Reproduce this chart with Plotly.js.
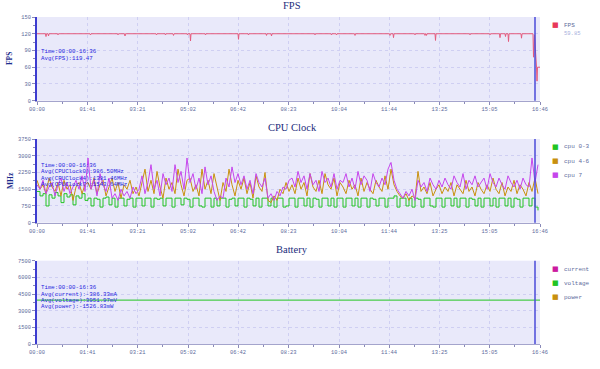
<!DOCTYPE html>
<html><head><meta charset="utf-8">
<script src="https://cdn.plot.ly/plotly-3.0.1.min.js"></script>
<style>html,body{margin:0;padding:0;background:#fff}#chart{width:600px;height:369px}</style>
</head><body><div id="chart"></div>
<script>
// ---------- DATA ----------
const timeTickLabels = ["00:00","01:41","03:21","05:02","06:42","08:23","10:04","11:44","13:25","15:05","16:46"];
const timeRangeText = "00:00-16:36";
const cursorTime = 996; // seconds (16:36)

const fpsYTicks = [0,30,60,90,120,150];
const cpuYTicks = [0,750,1500,2250,3000,3750];
const batYTicks = [0,1500,3000,4500,6000,7500];

const fpsTime = [0, 17,18,19, 22,23,24, 41,42,43, 106,107,108, 161,162,163, 175,176,177,
  238,239,240, 256,257,258, 272,273,274, 300,301,302, 306,307,308, 336,337,338, 402,403,404,
  422,423,424, 458,459,460, 468,469,470, 555,556,557, 588,589,590, 598,599,600, 635,636,637,
  705,706,707, 712,713,714, 755,756,757, 775,776,777, 778,779,780, 796,797,798, 865,866,867,
  905,906,907, 925,926,927, 936,937,938, 942,943,944, 968,969,970, 992,993,995, 999,1000,1001,1006];
const fpsValue = [120, 120,115,120, 120,116,120, 120,118,120, 120,118,120, 120,118,120, 120,116,120,
  120,118,120, 120,118,120, 120,117,120, 120,118,120, 120,107,120, 120,118,120, 120,110,120,
  120,118,120, 120,117,120, 120,116,120, 120,118,120, 120,118,120, 120,118,120, 120,117,120,
  120,117,120, 120,113,120, 120,118,120, 120,117,120, 120,117,120, 120,108,120, 120,118,120,
  120,118,120, 120,113,120, 120,115,120, 120,106,120, 120,112,120, 120,78,118, 60,35,60,60];
const fpsLatest = "59.85";
const fpsAvg = "119.47";

const cpuStartSec = 0, cpuStepSec = 6;
const cpu03 = [1400,1200,1300,750,1250,1100,1350,1200,900,1300,1150,1250,800,1200,1100,1300,1000,
  1100,750,1100,1050,700,1100,1150,800,1100,700,1100,1100,750,1050,1100,700,1100,
  1100,750,1100,1100,700,1100,1050,1100,750,1100,1100,700,1100,1100,800,1100,1050,
  700,1100,1100,750,700,1100,1100,700,1100,750,1100,1100,700,1050,1100,750,1100,
  1100,700,1100,1050,750,1100,700,1100,1100,750,1100,700,1100,1100,700,750,1100,
  1100,700,1100,1100,750,1100,700,1100,1050,700,1100,1100,750,1100,700,1100,1100,
  700,1100,1100,750,1100,700,1100,1100,700,1100,1050,750,1100,1100,700,1100,1100,
  1200,700,1100,1100,750,1100,700,1100,1050,700,1100,1100,750,700,1100,1100,700,
  1100,1100,750,1100,700,1100,1100,700,1100,1050,750,1100,700,1100,1100,750,1100,
  700,1100,1100,750,1100,700,1100,1050,700,1100,1100,750,1100,700,550];
const cpu46 = [1900,1500,1700,1300,2000,1600,1400,1800,1200,1900,1500,1700,1000,1600,1800,1300,1700,
  1800,1500,2000,1300,1700,1900,1200,1600,2000,1400,1800,1100,1700,1500,1900,1300,1600,
  1200,1800,2400,1400,1900,1300,2300,1600,1100,2000,1500,1800,1300,2400,1700,1200,1900,
  2000,1400,1700,1200,2400,1500,1900,1300,2200,1600,1000,1800,1400,2400,1700,1200,1900,
  1500,2000,1300,1800,1100,2100,1600,1400,2250,1000,900,1200,1000,1500,1300,1800,1400,
  1700,1300,2000,1500,1800,1200,2200,1600,1400,1900,1300,2200,1700,1500,2000,1200,1800,
  1600,1300,1900,1500,1700,1200,2000,1400,1800,1500,1300,1900,1600,1400,2100,1500,2400,
  1700,1400,1200,1100,1300,1000,1200,1100,2300,1400,1600,1300,1800,1200,1500,1700,1300,
  1600,1400,1800,1200,1700,1500,1300,1900,1400,1600,1200,1800,1500,1300,1700,1400,2000,
  1500,1300,1800,1200,1600,1400,1900,1300,1700,1500,1200,1800,1400,2000,1300];
const cpu7 = [1700,1500,1900,1300,1600,1800,1200,1700,2000,1400,1800,1300,1600,1900,1500,2100,1400,
  2900,1500,1900,1200,2200,1700,1400,2000,1100,1300,1000,1500,1200,1400,1100,1600,1300,
  1500,2100,1300,1800,2600,1500,1900,1200,2200,1700,2000,1400,2600,1800,2300,1500,2900,
  1800,2200,1500,2000,1300,2500,1700,2100,1400,1000,1200,1100,2000,1600,2500,1800,2200,
  1700,2100,1500,1900,1300,2200,1800,1600,2000,1100,1300,1000,1400,1200,1600,1500,1900,
  2000,1600,2300,1800,2100,1500,2200,1700,1900,1400,2300,1800,2000,1600,2200,1500,1900,
  1800,2200,1600,2000,1500,2300,1700,2100,1900,1400,2200,1800,1600,2000,1700,2400,2700,
  1900,1500,1300,1100,1400,1200,1500,1000,1900,1600,1800,1400,2000,1700,1500,1900,1600,
  2000,1700,1500,2100,1800,1600,2200,1500,1900,1700,2100,1600,1800,2000,1500,2200,1800,
  1600,2000,1700,1500,2100,1800,1600,1900,1500,2000,1700,1600,2900,1800,2600];
const cpuAvg = ["986.50","1381.46","1543.64"];

const batTime = [0, 250, 500, 750, 1006];
const batCurrent = [-386, -387, -386, -386, -386];
const batVoltage = [3952, 3952, 3951, 3952, 3952];
const batPower = [-1527, -1528, -1526, -1527, -1526];
const batAvg = ["-386.33","3951.97","-1526.83"];

const fpsNames = ["FPS"], fpsColors = ["#e8385a"];
const cpuNames = ["cpu 0-3","cpu 4-6","cpu 7"], cpuColors = ["#22c422","#c8900e","#c646ec"];
const batNames = ["current","voltage","power"], batColors = ["#cc1aa0","#22c422","#c8900e"];

// ---------- BUILD ----------
const W = 600, H = 369;
const px = v => v / W, py = v => (H - v) / H;
const toSec = s => { const p = s.split(":"); return (+p[0]) * 60 + (+p[1]); };
const xTickVals = timeTickLabels.map(toSec);
const xMinor = xTickVals.slice(1).map((v, i) => (v + xTickVals[i]) / 2);
const cpuTime = cpu03.map((_, i) => cpuStartSec + i * cpuStepSec);
const mid = arr => arr.slice(1).map((v, i) => (v + arr[i]) / 2);

const tickFont = {family: "Liberation Mono", size: 5.4, color: "#5e6b9c"};
const gridC = "#cfcff2";
function xAxis(anchor) {
  return {domain: [px(37), px(540)], anchor: anchor, range: [0, xTickVals[xTickVals.length-1]],
    tickmode: "array", tickvals: xTickVals, ticktext: timeTickLabels,
    ticks: "outside", ticklen: 3, tickcolor: "#8a8ab8", tickwidth: 1,
    showline: true, linecolor: "#a4a4cc", linewidth: 1,
    showgrid: true, gridcolor: gridC, griddash: "dot", gridwidth: 1, zeroline: false,
    tickfont: tickFont, automargin: false,
    minor: {tickmode: "array", tickvals: xMinor, ticks: "outside", ticklen: 2, tickcolor: "#8a8ab8", showgrid: false}};
}
function yAxis(anchor, top, bottom, ticks) {
  return {domain: [py(bottom), py(top)], anchor: anchor, range: [ticks[0], ticks[ticks.length-1]],
    tickmode: "array", tickvals: ticks, ticktext: ticks.map(String),
    ticks: "outside", ticklen: 3, tickcolor: "#8a8ab8",
    showline: true, linecolor: "#3c3cd0", linewidth: 2,
    showgrid: true, gridcolor: gridC, griddash: "dot", zeroline: false,
    tickfont: tickFont, automargin: false,
    minor: {tickmode: "array", tickvals: mid(ticks), ticks: "outside", ticklen: 2, tickcolor: "#8a8ab8", showgrid: false}};
}

const traces = [
  {x: fpsTime, y: fpsValue, xaxis: "x", yaxis: "y", mode: "lines", line: {color: "#e45a7c", width: 1}, name: "FPS"},
  {x: cpuTime, y: cpu03, xaxis: "x2", yaxis: "y2", mode: "lines", line: {color: cpuColors[0], width: 1, shape: "hv"}, name: cpuNames[0]},
  {x: cpuTime, y: cpu46, xaxis: "x2", yaxis: "y2", mode: "lines", line: {color: cpuColors[1], width: 1}, name: cpuNames[1]},
  {x: cpuTime, y: cpu7, xaxis: "x2", yaxis: "y2", mode: "lines", line: {color: cpuColors[2], width: 1}, name: cpuNames[2]},
  {x: batTime, y: batCurrent, xaxis: "x3", yaxis: "y3", mode: "lines", line: {color: batColors[0], width: 1}, name: batNames[0]},
  {x: batTime, y: batVoltage, xaxis: "x3", yaxis: "y3", mode: "lines", line: {color: batColors[1], width: 1}, name: batNames[1]},
  {x: batTime, y: batPower, xaxis: "x3", yaxis: "y3", mode: "lines", line: {color: batColors[2], width: 1}, name: batNames[2]}
];

const ann = [];
const titleFont = {family: "Liberation Serif", size: 10.5, color: "#1c2c7c"};
[["FPS", 5.5], ["CPU Clock", 127], ["Battery", 249]].forEach(([t, y]) =>
  ann.push({text: t, xref: "paper", yref: "paper", x: px(292), y: py(y), xanchor: "center", yanchor: "middle", showarrow: false, font: titleFont}));
[["FPS", 59], ["MHz", 181]].forEach(([t, y]) =>
  ann.push({text: "<b>" + t + "</b>", xref: "paper", yref: "paper", x: px(10), y: py(y), xanchor: "center", yanchor: "middle", textangle: -90, showarrow: false,
    font: {family: "Liberation Serif", size: 7.5, color: "#1c2c8c"}}));

const statFont = {family: "Liberation Mono", size: 5.75, color: "#1f1fe0"};
function stats(lines, y0) {
  lines.forEach((t, i) => ann.push({text: t, xref: "paper", yref: "paper", x: px(38.5), y: py(y0 + i * 6.3),
    xanchor: "left", yanchor: "middle", showarrow: false, font: statFont}));
}
stats(["Time:" + timeRangeText, "Avg(FPS):" + fpsAvg], 52);
stats(["Time:" + timeRangeText, "Avg(CPUClock0):" + cpuAvg[0] + "MHz", "Avg(CPUClock4):" + cpuAvg[1] + "MHz", "Avg(CPUClock7):" + cpuAvg[2] + "MHz"], 165.5);
stats(["Time:" + timeRangeText, "Avg(current):" + batAvg[0] + "mA", "Avg(voltage):" + batAvg[1] + "mV", "Avg(power):" + batAvg[2] + "mW"], 287.7);

const legFont = {family: "Liberation Mono", size: 6, color: "#5e6b9c"};
function legend(names, colors, y0) {
  names.forEach((n, i) => {
    const y = y0 + i * 14;
    ann.push({text: "■", xref: "paper", yref: "paper", x: px(555.5), y: py(y), xanchor: "center", yanchor: "middle", showarrow: false,
      font: {family: "DejaVu Sans", size: 7, color: colors[i]}});
    ann.push({text: n, xref: "paper", yref: "paper", x: px(562), y: py(y), xanchor: "left", yanchor: "middle", showarrow: false, font: legFont});
  });
}
legend(fpsNames, fpsColors, 25);
ann.push({text: fpsLatest, xref: "paper", yref: "paper", x: px(562), y: py(34), xanchor: "left", yanchor: "middle", showarrow: false,
  font: {family: "Liberation Mono", size: 5.5, color: "#a8b0dc"}});
legend(cpuNames, cpuColors, 147);
legend(batNames, batColors, 269);

const shapes = ["", "2", "3"].map(s => ({type: "line", xref: "x" + s, yref: "y" + s + " domain", x0: cursorTime, x1: cursorTime, y0: 0, y1: 1,
  line: {color: "#4a4ad8", width: 1.5}, layer: "above"}));

const layout = {
  width: W, height: H, margin: {l: 0, r: 0, t: 0, b: 0},
  paper_bgcolor: "#ffffff", plot_bgcolor: "#e9e9fa", showlegend: false,
  xaxis: xAxis("y"), xaxis2: xAxis("y2"), xaxis3: xAxis("y3"),
  yaxis: yAxis("x", 17, 100.7, fpsYTicks),
  yaxis2: yAxis("x2", 139, 222.7, cpuYTicks),
  yaxis3: yAxis("x3", 260.7, 344, batYTicks),
  annotations: ann, shapes: shapes
};
Plotly.newPlot("chart", traces, layout, {displayModeBar: false, staticPlot: true});
</script></body></html>
